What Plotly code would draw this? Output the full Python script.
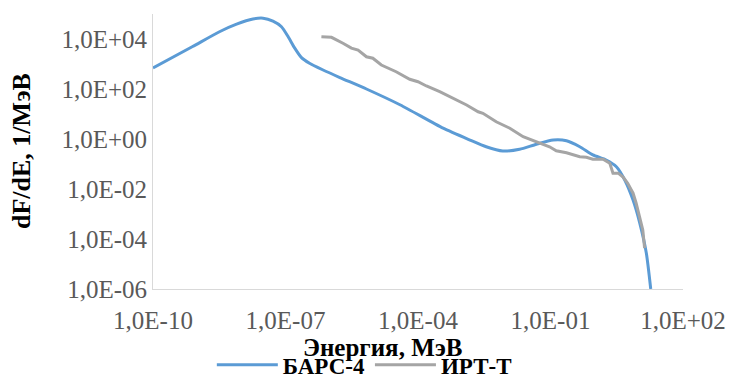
import plotly.graph_objects as go

# BARS-4 spectrum (energy, MeV ; dF/dE, 1/MeV)
bars_E = [1.0e-10, 7.9e-10, 3.2e-9, 7.8e-9, 1.83e-8, 3.1e-8, 5.2e-8, 8.1e-8, 1.15e-7, 1.62e-7,
          2.3e-7, 3.5e-7, 7.1e-7, 1.7e-6, 6.8e-6, 4.0e-5, 3.7e-4, 1.5e-3, 3.5e-3, 8.3e-3,
          0.020, 0.048, 0.115, 0.23, 0.46, 0.91, 1.82, 3.1, 4.8, 7.4,
          10.5, 14.8, 18.6]
bars_F = [690, 5.0e3, 1.95e4, 3.9e4, 6.3e4, 6.8e4, 5.2e4, 3.1e4, 1.23e4, 4.3e3,
          1.8e3, 1.07e3, 575, 288, 100, 22.9, 2.7, 0.91, 0.49, 0.33,
          0.39, 0.62, 0.91, 0.85, 0.49, 0.23, 0.145, 0.078, 0.023, 3.6e-3,
          4.3e-4, 2.7e-5, 1.0e-6]

# IRT-T spectrum
irt_E = [6.5e-7, 1.1e-6, 2.0e-6, 3.1e-6, 4.4e-6, 6.8e-6, 9.5e-6, 1.48e-5, 3.2e-5, 6.5e-5,
         1.0e-4, 1.55e-4, 3.1e-4, 6.2e-4, 1.26e-3, 2.3e-3, 2.95e-3, 5.9e-3, 0.012, 0.024,
         0.048, 0.095, 0.135, 0.23, 0.46, 0.65, 0.91, 1.55, 2.2, 2.6,
         3.4, 4.4, 5.6, 7.4, 8.7, 10.5, 12.3, 13.5]
irt_F = [1.23e4, 1.17e4, 6.8e3, 4.3e3, 3.6e3, 1.95e3, 1.7e3, 912, 490, 245,
         195, 132, 78, 43, 23, 12.3, 10.7, 4.9, 2.7, 1.23,
         0.78, 0.49, 0.34, 0.28, 0.195, 0.186, 0.155, 0.155, 0.107, 0.043,
         0.043, 0.030, 0.017, 6.8e-3, 2.7e-3, 7.8e-4, 2.3e-4, 4.3e-5]

x_tickvals = [1e-10, 1e-7, 1e-4, 1e-1, 1e2]
x_ticktext = ["1,0E-10", "1,0E-07", "1,0E-04", "1,0E-01", "1,0E+02"]
y_tickvals = [1e-6, 1e-4, 1e-2, 1e0, 1e2, 1e4]
y_ticktext = ["1,0E-06", "1,0E-04", "1,0E-02", "1,0E+00", "1,0E+02", "1,0E+04"]

FONT = "Liberation Serif, Times New Roman, serif"

fig = go.Figure()
fig.add_trace(go.Scatter(x=bars_E, y=bars_F, mode="lines", name="БАРС-4",
                         line=dict(color="#5B9BD5", width=3, shape="spline", smoothing=0.6)))
fig.add_trace(go.Scatter(x=irt_E, y=irt_F, mode="lines", name="ИРТ-Т",
                         line=dict(color="#A5A5A5", width=3)))

axis_common = dict(showgrid=False, zeroline=False, showline=True, linecolor="#D9D9D9",
                   linewidth=1, ticks="", tickfont=dict(family=FONT, size=25, color="#595959"))

fig.update_xaxes(type="log", range=[-10, 2], tickvals=x_tickvals, ticktext=x_ticktext,
                 ticklabelstandoff=9, **axis_common)
fig.update_yaxes(type="log", range=[-6, 5], tickvals=y_tickvals, ticktext=y_ticktext,
                 **axis_common)

fig.update_layout(
    width=729, height=376,
    margin=dict(l=153, r=46, t=14, b=87, autoexpand=False),
    paper_bgcolor="white", plot_bgcolor="white",
    showlegend=True,
    legend=dict(orientation="h", x=0.111, xanchor="left", y=-0.276, yanchor="middle",
                font=dict(family=FONT, size=23, color="black", weight="bold"),
                itemwidth=61, bgcolor="rgba(0,0,0,0)"),
    annotations=[
        dict(text="<b>dF/dE, 1/МэВ</b>", xref="paper", yref="paper",
             x=-0.248, y=0.5, xanchor="center", yanchor="middle", textangle=-90,
             showarrow=False, font=dict(family=FONT, size=26, color="black")),
        dict(text="<b>Энергия, МэВ</b>", xref="paper", yref="paper",
             x=(383 - 153) / 530, y=(289 - 347) / 275, xanchor="center", yanchor="middle",
             showarrow=False, font=dict(family=FONT, size=25, color="black")),
    ],
)

fig.write_html("out.html")
